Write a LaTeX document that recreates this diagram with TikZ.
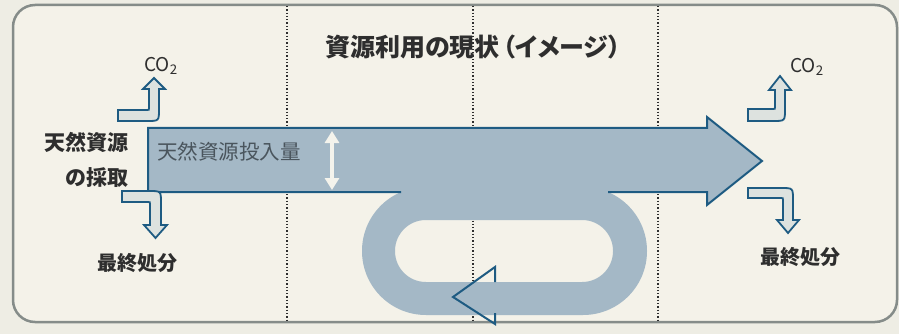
\documentclass[tikz,border=0pt]{standalone}
\usepackage{fontspec}
\usetikzlibrary{arrows.meta}
\setmainfont{Noto Sans CJK JP}
\newfontfamily\cjkp[RawFeature=+palt]{Noto Sans CJK JP}
\definecolor{bandc}{HTML}{A4B8C6}
\definecolor{edgec}{HTML}{1E5B82}
\definecolor{paper}{HTML}{F4F2E9}
\definecolor{outerc}{HTML}{EEEDE4}
\definecolor{framec}{HTML}{858C89}
\definecolor{inkc}{HTML}{2E2E2E}
\definecolor{bandtext}{HTML}{4A555D}
\definecolor{smallfill}{HTML}{DDE2DF}
\definecolor{whitearrow}{HTML}{F4F3EC}
\begin{document}
\begin{tikzpicture}[x=1pt,y=-1pt,
  lbl/.style={font=\fontsize{20}{24}\selectfont\bfseries, text=inkc, inner sep=0pt},
  colbl/.style={font=\fontsize{19}{22}\selectfont, text=inkc, inner sep=0pt},
  smallarrow/.style={draw=edgec, line width=1.8pt, fill=smallfill, line join=miter},
  sep/.style={draw=inkc, line width=1.3pt, dotted},
  bandline/.style={draw=edgec, line width=2pt, line join=miter}
]
\useasboundingbox (0,0) rectangle (899,334);
\fill[outerc] (0,0) rectangle (899,334);
\draw[framec, line width=2.5pt, fill=paper, rounded corners=22pt] (13,5) rectangle (897,322);
% separators
\foreach \x in {287,473,658} \draw[sep] (\x,6) -- (\x,321);
% loop
\fill[bandc, even odd rule] (362,187) [rounded corners=63.9pt] rectangle (647,315)
  (395,220) [rounded corners=30.9pt] rectangle (613,282);
% main band
\fill[bandc] (148,128) -- (707,128) -- (707,117) -- (762,161) -- (707,205) -- (707,192) -- (148,192) -- cycle;
\draw[bandline] (401,192) -- (148,192) -- (148,128) -- (707,128) -- (707,117) -- (762,161) -- (707,205) -- (707,192) -- (608,192);
% loop arrowhead
\draw[bandline] (495,282) -- (495,267) -- (453,297) -- (495,324) -- (495,313);
% white double arrow
\coordinate (ta) at (332,131);
\coordinate (tb) at (332,190);
\draw[whitearrow, line width=4.5pt, {Triangle[width=14pt,length=12pt]}-{Triangle[width=14pt,length=12pt]}] (ta) -- (tb);
% small arrows
\draw[smallarrow] (118,110) -- (147,110) .. controls (149,110) .. (149,108) -- (149,89) -- (143,89) -- (154,78) -- (165,89) -- (159,89) -- (159,109) .. controls (159,121) .. (147,121) -- (118,121) -- cycle;
\draw[smallarrow] (122,191) -- (149,191) .. controls (161,191) .. (161,203) -- (161,225) -- (167,225) -- (155.5,238) -- (144,225) -- (150,225) -- (150,204) .. controls (150,202) .. (148,202) -- (122,202) -- cycle;
\draw[smallarrow] (748,109) -- (773,109) .. controls (775,109) .. (775,107) -- (775,90) -- (769,90) -- (780,76) -- (791,90) -- (785,90) -- (785,109) .. controls (785,121) .. (773,121) -- (748,121) -- cycle;
\draw[smallarrow] (748,188) -- (781,188) .. controls (793,188) .. (793,200) -- (793,220) -- (799,220) -- (788,233) -- (777,220) -- (783,220) -- (783,200) .. controls (783,198) .. (781,198) -- (748,198) -- cycle;
% texts
\node[font=\fontsize{25}{28}\selectfont\bfseries\cjkp, text=inkc, inner sep=0pt] (title) at (473,47) {資源利用の現状\hspace{3pt}（イメージ）};
\node[font=\fontsize{21}{35}\selectfont\bfseries, text=inkc, inner sep=0pt, align=right, anchor=east] (src) at (129,160) {天然資源\\の採取};
\node[font=\fontsize{20.5}{24}\selectfont, text=bandtext, inner sep=0pt, anchor=west] (amount) at (157,152) {天然資源投入量};
\node[lbl] (dispL) at (137,263) {最終処分};
\node[lbl] (dispR) at (800,257) {最終処分};
\node[colbl] (co2L) at (161,66) {CO\textsubscript{2}};
\node[colbl] (co2R) at (807,67) {CO\textsubscript{2}};
\end{tikzpicture}
\end{document}
